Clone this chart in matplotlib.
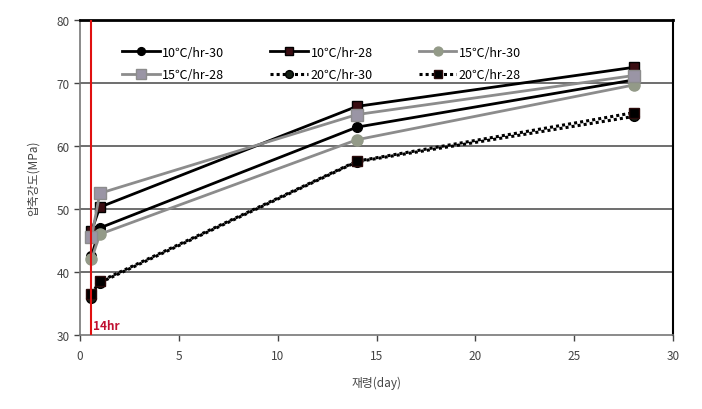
import matplotlib
matplotlib.use("Agg")
import matplotlib.pyplot as plt

plt.rcParams['font.family'] = ['Noto Sans CJK KR', 'DejaVu Sans']

# age in days (14hr, 1 day, 14 days, 28 days)
days = [0.58, 1, 14, 28]
s10_30 = [42.5, 47.0, 63.0, 70.5]
s10_28 = [46.5, 50.3, 66.3, 72.5]
s15_30 = [42.0, 46.0, 61.0, 69.7]
s15_28 = [45.5, 52.5, 65.0, 71.2]
s20_30 = [35.8, 38.3, 57.5, 64.7]
s20_28 = [36.5, 38.5, 57.6, 65.3]

labels = ["10℃/hr-30", "10℃/hr-28", "15℃/hr-30",
          "15℃/hr-28", "20℃/hr-30", "20℃/hr-28"]

fig = plt.figure(figsize=(7.02, 4.10), dpi=100)
ax = fig.add_axes([0.114, 0.1805, 0.845, 0.768])

# gridlines
for yv in [40, 50, 60, 70]:
    ax.axhline(yv, color="#555555", lw=1.2, zorder=0)

h1, = ax.plot(days, s10_30, color="black", lw=2, marker="o", ms=7,
              mfc="black", mec="black", label=labels[0])
h2, = ax.plot(days, s10_28, color="black", lw=2, marker="s", ms=7,
              mfc="#3a0d12", mec="black", label=labels[1])
h3, = ax.plot(days, s15_30, color="#8c8c8c", lw=2, marker="o", ms=8,
              mfc="#939a88", mec="#939a88", label=labels[2])
h4, = ax.plot(days, s15_28, color="#8c8c8c", lw=2, marker="s", ms=9,
              mfc="#9a95a5", mec="#8c8c8c", label=labels[3])
h5, = ax.plot(days, s20_30, color="black", lw=2.2, ls=(0, (1, 1)), marker="o",
              ms=7, mfc="#152015", mec="black", label=labels[4])
h6, = ax.plot(days, s20_28, color="black", lw=2.2, ls=(0, (1, 1)), marker="s",
              ms=7, mfc="black", mec="#2a0a0a", label=labels[5])

# 14hr line
ax.axvline(0.58, color="#e01010", lw=1.5, zorder=5)
ax.text(0.68, 30.4, "14hr", color="#c01030", fontsize=8.5, fontweight="bold",
        va="bottom", ha="left", zorder=6)

ax.set_xlim(0, 30)
ax.set_ylim(30, 80)
ax.set_xticks(range(0, 31, 5))
ax.set_yticks(range(30, 81, 10))
ax.tick_params(colors="#444444", labelsize=8.5, length=4, width=1,
               direction="out")
ax.tick_params(axis="x", pad=6)

for s in ["left", "bottom"]:
    ax.spines[s].set_color("#777777")
    ax.spines[s].set_linewidth(1.2)
ax.spines["top"].set_color("black")
ax.spines["top"].set_linewidth(2)
ax.spines["right"].set_color("black")
ax.spines["right"].set_linewidth(1.5)

ax.set_ylabel("압축강도(MPa)", fontsize=8.5, color="#444444", labelpad=12)
ax.set_xlabel("재령(day)", fontsize=8.5, color="#444444", labelpad=10)

handles = [h1, h4, h2, h5, h3, h6]
ax.legend(handles=handles, labels=[h.get_label() for h in handles], ncol=3,
          loc="upper left", bbox_to_anchor=(0.052, 0.955), frameon=False,
          fontsize=9, handlelength=3, columnspacing=3.7, labelspacing=0.75,
          handletextpad=0.2, markerscale=0.8)

fig.savefig("out.png", dpi=100)
